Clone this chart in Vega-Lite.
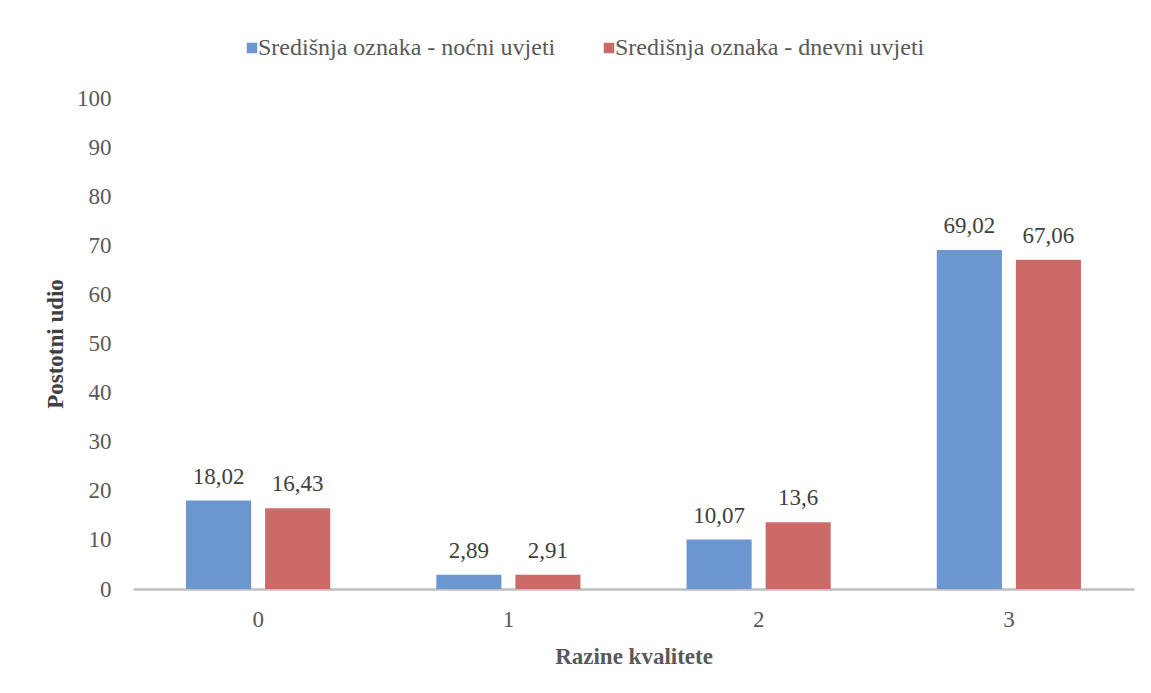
{
  "$schema": "https://vega.github.io/schema/vega-lite/v6.json",
  "autosize": "none",
  "width": 1001,
  "height": 491,
  "padding": {"left": 133, "top": 98, "right": 17, "bottom": 104},
  "background": "white",
  "config": {
    "view": {"stroke": null},
    "font": "Liberation Serif",
    "locale": {"number": {"decimal": ",", "thousands": ".", "grouping": [3], "currency": ["", " €"]}}
  },
  "data": {
    "values": [
      {"razina": "0", "serija": "Središnja oznaka - noćni uvjeti", "udio": 18.02},
      {"razina": "0", "serija": "Središnja oznaka - dnevni uvjeti", "udio": 16.43},
      {"razina": "1", "serija": "Središnja oznaka - noćni uvjeti", "udio": 2.89},
      {"razina": "1", "serija": "Središnja oznaka - dnevni uvjeti", "udio": 2.91},
      {"razina": "2", "serija": "Središnja oznaka - noćni uvjeti", "udio": 10.07},
      {"razina": "2", "serija": "Središnja oznaka - dnevni uvjeti", "udio": 13.6},
      {"razina": "3", "serija": "Središnja oznaka - noćni uvjeti", "udio": 69.02},
      {"razina": "3", "serija": "Središnja oznaka - dnevni uvjeti", "udio": 67.06}
    ]
  },
  "encoding": {
    "x": {
      "field": "razina", "type": "nominal",
      "scale": {"paddingInner": 0.424, "paddingOuter": 0.212},
      "axis": {
        "title": "Razine kvalitete", "labelAngle": 0,
        "labelFont": "Liberation Serif", "labelFontSize": 23, "labelColor": "#595959",
        "labelPadding": 19, "ticks": false,
        "domainColor": "#bfbfbf", "domainWidth": 2.5,
        "titleFont": "Liberation Serif", "titleFontSize": 23, "titleFontWeight": "bold",
        "titleColor": "#595959", "titlePadding": 14
      }
    },
    "xOffset": {
      "field": "serija", "type": "nominal",
      "sort": ["Središnja oznaka - noćni uvjeti", "Središnja oznaka - dnevni uvjeti"],
      "scale": {"paddingInner": 0.177, "paddingOuter": 0}
    },
    "y": {
      "field": "udio", "type": "quantitative",
      "scale": {"domain": [0, 100], "nice": false},
      "axis": {
        "title": "Postotni udio", "values": [0, 10, 20, 30, 40, 50, 60, 70, 80, 90, 100],
        "grid": false, "domain": false, "ticks": false,
        "labelFont": "Liberation Serif", "labelFontSize": 23, "labelColor": "#595959",
        "labelPadding": 22,
        "titleFont": "Liberation Serif", "titleFontSize": 23, "titleFontWeight": "bold",
        "titleColor": "#404040", "titlePadding": 9
      }
    }
  },
  "layer": [
    {
      "mark": {"type": "bar"},
      "encoding": {
        "color": {
          "field": "serija", "type": "nominal",
          "sort": ["Središnja oznaka - noćni uvjeti", "Središnja oznaka - dnevni uvjeti"],
          "scale": {"range": ["#6b96cf", "#cc6a67"]},
          "legend": {
            "title": null, "orient": "none", "direction": "horizontal",
            "legendX": 107, "legendY": -62,
            "symbolType": "square", "symbolSize": 110, "symbolStrokeWidth": 0,
            "labelFont": "Liberation Serif", "labelFontSize": 24, "labelColor": "#595959",
            "labelOffset": -6, "columnPadding": 41, "labelLimit": 500, "padding": 0
          }
        }
      }
    },
    {
      "mark": {"type": "text", "baseline": "alphabetic", "dy": -17, "font": "Liberation Serif", "fontSize": 23, "color": "#404040"},
      "encoding": {
        "text": {"field": "udio", "type": "quantitative", "format": ".4~g"}
      }
    }
  ]
}
